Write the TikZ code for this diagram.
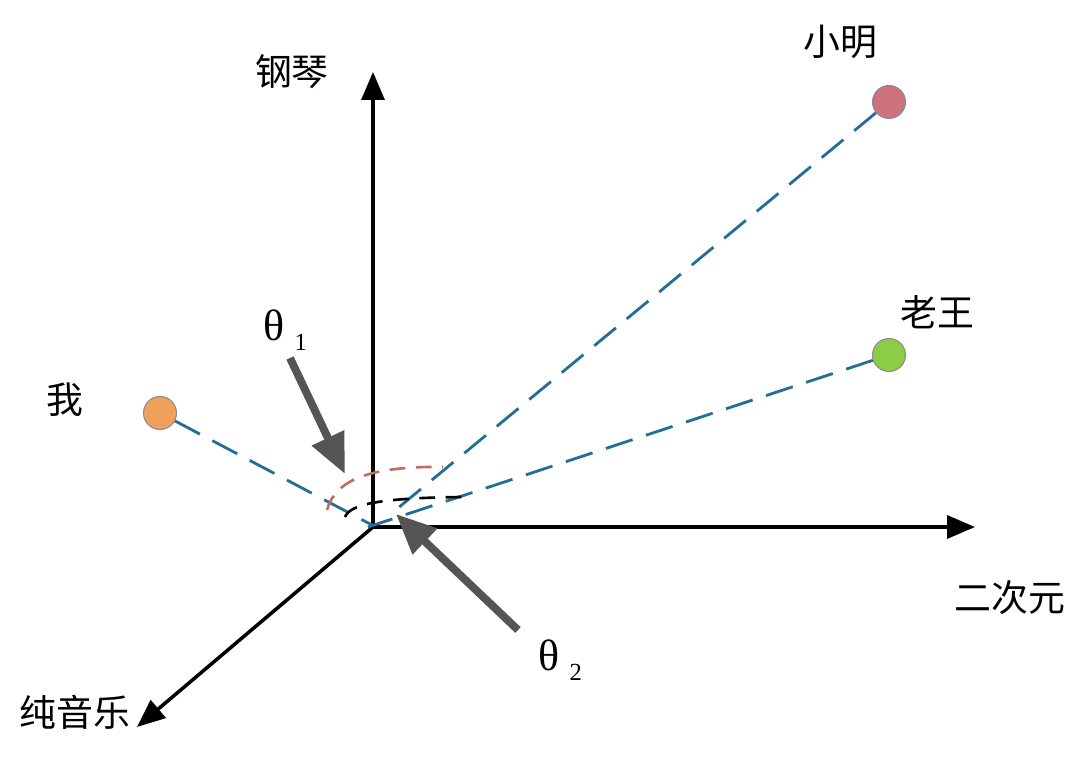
\documentclass[tikz,border=0pt]{standalone}
\usepackage{fontspec}
\usetikzlibrary{arrows.meta}
\newfontfamily\cjk{Noto Sans CJK SC}
\newfontfamily\thetafont{Liberation Serif}
\definecolor{linkblue}{RGB}{35,110,150}
\definecolor{arcred}{RGB}{190,110,95}
\definecolor{pinkdot}{RGB}{205,115,125}
\definecolor{greendot}{RGB}{140,205,70}
\definecolor{orangedot}{RGB}{240,160,90}
\definecolor{pointer}{RGB}{85,85,85}

\begin{document}
\begin{tikzpicture}[x=0.02cm,y=-0.02cm,
  every node/.style={font=\cjk\fontsize{21}{24}\selectfont},
  axis/.style={line width=2pt,-{Triangle[length=0.56cm,width=0.46cm]}},
  link/.style={linkblue,line width=1.6pt,dash pattern=on 16pt off 8pt},
  dot/.style={circle,draw=black!45,line width=0.6pt,minimum size=0.66cm,inner sep=0pt},
  angarc/.style={line width=1.5pt,dash pattern=on 9pt off 6pt},
  hint/.style={pointer,line width=4.5pt,-{Triangle[length=0.8cm,width=0.68cm]}},
  sym/.style={font=\thetafont\fontsize{25}{28}\selectfont}]
\useasboundingbox (0,0) rectangle (1080,757);
\coordinate (o) at (373,527);
% axes
\draw[axis] (o) -- (373,72) coordinate (piano);
\draw[axis] (o) -- (975,527) coordinate (anime);
\draw[axis] (o) -- (137,727) coordinate (pure);
\node (pianolbl) at (292,72) {钢琴};
\node (animelbl) at (1010,598) {二次元};
\node (purelbl) at (75,712) {纯音乐};
% people
\node[dot,fill=pinkdot] (ming) at (889,102) {};
\node[dot,fill=greendot] (wang) at (889,355) {};
\node[dot,fill=orangedot] (me) at (160,413) {};
\node (minglbl) at (840,42) {小明};
\node (wanglbl) at (937,312) {老王};
\node (melbl) at (65,400) {我};
\coordinate (mingend) at (392,513);
\coordinate (wangend) at (368,527);
\coordinate (meend) at (372,525);
\draw[link] (ming) -- (mingend);
\draw[link] (wang) -- (wangend);
\draw[link] (me) -- (meend);
% angles
\draw[angarc,arcred] (327,510) .. controls (335,480) and (370,466) .. (443,467);
\draw[angarc,black] (345,517) .. controls (350,505) and (375,498) .. (462,497);
\node[sym] (t1) at (285,330) {θ\hspace{6pt}\raisebox{-6pt}{\fontsize{14}{16}\selectfont 1}};
\node[sym] (t2) at (560,660) {θ\hspace{6pt}\raisebox{-6pt}{\fontsize{14}{16}\selectfont 2}};
\coordinate (t1tip) at (345,474);
\coordinate (t2tip) at (396,514);
\draw[hint] (290,358) -- (t1tip);
\draw[hint] (518,630) -- (t2tip);
\end{tikzpicture}
\end{document}
